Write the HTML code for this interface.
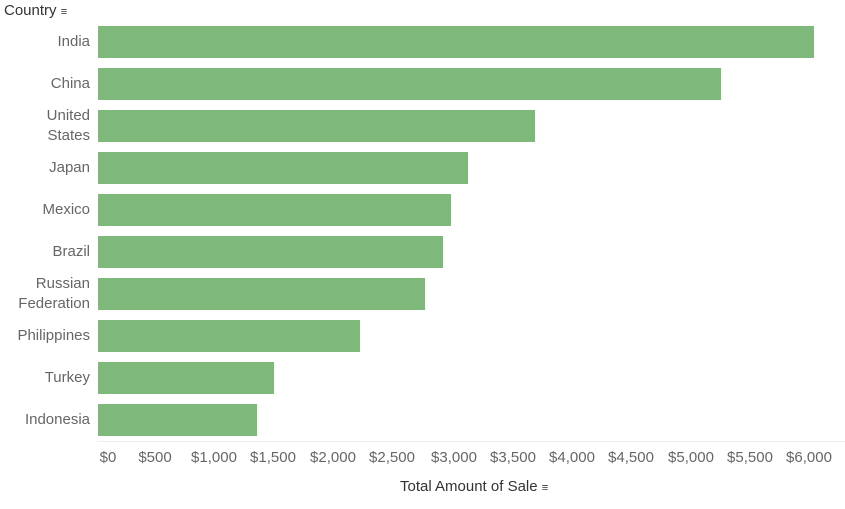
<!DOCTYPE html>
<html><head><style>
body{margin:0;width:845px;height:509px;background:#fff;font-family:"Liberation Sans",sans-serif;position:relative;overflow:hidden}
.b{position:absolute;left:98px;height:32px;background:#7eb87a}
.l{position:absolute;right:755px;color:#666;font-size:15px;text-align:right;line-height:20px}
.t{position:absolute;top:449px;color:#666;font-size:15px;transform:translateX(-50%);white-space:nowrap}
</style></head><body>
<div style="position:absolute;left:4px;top:2px;font-size:15px;color:#333">Country <span style="font-size:11px">&#8801;</span></div>
<div class="b" style="top:26px;width:716px"></div>
<div class="b" style="top:68px;width:623px"></div>
<div class="b" style="top:110px;width:437px"></div>
<div class="b" style="top:152px;width:370px"></div>
<div class="b" style="top:194px;width:353px"></div>
<div class="b" style="top:236px;width:345px"></div>
<div class="b" style="top:278px;width:327px"></div>
<div class="b" style="top:320px;width:262px"></div>
<div class="b" style="top:362px;width:176px"></div>
<div class="b" style="top:404px;width:159px"></div>
<div class="l" style="top:32px">India</div>
<div class="l" style="top:74px">China</div>
<div class="l" style="top:106px">United<br>States</div>
<div class="l" style="top:158px">Japan</div>
<div class="l" style="top:200px">Mexico</div>
<div class="l" style="top:242px">Brazil</div>
<div class="l" style="top:274px">Russian<br>Federation</div>
<div class="l" style="top:326px">Philippines</div>
<div class="l" style="top:368px">Turkey</div>
<div class="l" style="top:410px">Indonesia</div>
<div style="position:absolute;left:97px;top:441px;width:748px;height:1px;background:#eee"></div>
<div class="t" style="left:108px">$0</div>
<div class="t" style="left:155px">$500</div>
<div class="t" style="left:214px">$1,000</div>
<div class="t" style="left:273px">$1,500</div>
<div class="t" style="left:333px">$2,000</div>
<div class="t" style="left:392px">$2,500</div>
<div class="t" style="left:454px">$3,000</div>
<div class="t" style="left:513px">$3,500</div>
<div class="t" style="left:572px">$4,000</div>
<div class="t" style="left:631px">$4,500</div>
<div class="t" style="left:691px">$5,000</div>
<div class="t" style="left:750px">$5,500</div>
<div class="t" style="left:809px">$6,000</div>
<div style="position:absolute;left:400px;top:478px;font-size:15px;color:#333">Total Amount of Sale <span style="font-size:11px">&#8801;</span></div>
</body></html>
